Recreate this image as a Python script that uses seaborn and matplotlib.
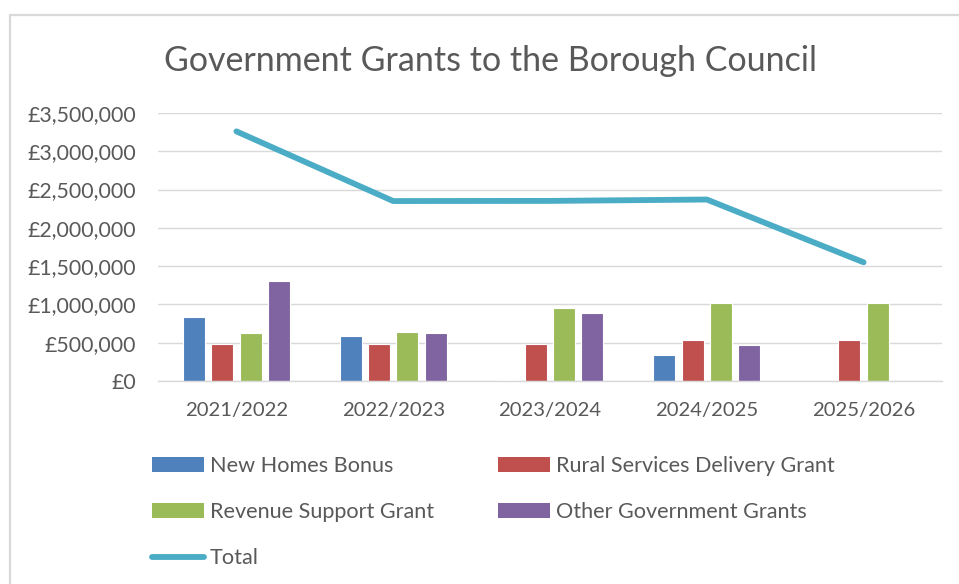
import numpy as np
import pandas as pd
import matplotlib
matplotlib.use("Agg")
import matplotlib.pyplot as plt
from matplotlib.lines import Line2D
from matplotlib.patches import Patch
from matplotlib.ticker import FuncFormatter, MultipleLocator
import seaborn as sns

# ---- data -------------------------------------------------------------
years = ["2021/2022", "2022/2023", "2023/2024", "2024/2025", "2025/2026"]
series = ["New Homes Bonus", "Rural Services Delivery Grant",
          "Revenue Support Grant", "Other Government Grants"]
new_homes_bonus = [835000, 583000, 13000, 335000, np.nan]
rural_services = [487000, 478000, 478000, 539000, 539000]
revenue_support = [622000, 643000, 952000, 1013000, 1013000]
other_grants = [1304000, 626000, 891000, 465000, np.nan]
total = [3260000, 2350000, 2352000, 2370000, 1550000]

colors = ["#4F81BD", "#C0504D", "#9BBB59", "#8064A2"]
line_color = "#4BACC6"
text_color = "#595959"
grid_color = "#D9D9D9"

# long table for seaborn
values = [new_homes_bonus, rural_services, revenue_support, other_grants]
rows = []
for name, vals in zip(series, values):
    for yr, v in zip(years, vals):
        rows.append({"Year": yr, "Grant": name, "Amount": v})
df = pd.DataFrame(rows).dropna()
df["Year"] = pd.Categorical(df["Year"], categories=years, ordered=True)

# ---- style ------------------------------------------------------------
sns.set_theme(style="white")
plt.rcParams["font.family"] = ["Lato", "DejaVu Sans"]
plt.rcParams["text.color"] = text_color

W, H = 959, 584
fig = plt.figure(figsize=(W / 100, H / 100), dpi=100)
left, right, top, bottom = 158, 942, 113, 381
ax = fig.add_axes([left / W, 1 - bottom / H, (right - left) / W, (bottom - top) / H])

sns.barplot(data=df, x="Year", y="Amount", hue="Grant", order=years,
            hue_order=series, palette=colors, width=0.72, gap=0.22,
            errorbar=None, edgecolor="white", linewidth=0.8,
            saturation=1, ax=ax, legend=False)

sns.lineplot(x=np.arange(len(years)), y=total, color=line_color,
             linewidth=4.2, ax=ax, legend=False,
             solid_capstyle="round", solid_joinstyle="round")

ax.set_xlim(-0.5, len(years) - 0.5)
ax.set_ylim(0, 3500000)
ax.yaxis.set_major_locator(MultipleLocator(500000))
ax.yaxis.set_major_formatter(FuncFormatter(lambda v, p: f"£{v:,.0f}"))
ax.set_xticks(range(len(years)))
ax.set_xticklabels(years)
ax.set_xlabel("")
ax.set_ylabel("")

ax.grid(axis="y", color=grid_color, linewidth=1.0)
ax.grid(axis="x", visible=False)
ax.set_axisbelow(True)
for s in ["top", "right", "left"]:
    ax.spines[s].set_visible(False)
ax.spines["bottom"].set_color(grid_color)
ax.spines["bottom"].set_linewidth(1.0)
ax.tick_params(axis="both", length=0, colors=text_color)
ax.tick_params(axis="y", pad=16, labelsize=15.3)
ax.tick_params(axis="x", pad=15, labelsize=14.6)

# title
fig.text(490 / W, 1 - 61 / H, "Government Grants to the Borough Council",
         ha="center", va="center", fontsize=24.5, color=text_color)

# chart frame
fig.add_artist(Line2D([9.5 / W, 9.5 / W], [0, 1 - 15 / H], color=grid_color,
                      linewidth=1.6, transform=fig.transFigure))
fig.add_artist(Line2D([9.5 / W, 1], [1 - 15 / H, 1 - 15 / H], color=grid_color,
                      linewidth=1.6, transform=fig.transFigure))

# legend: two pinned columns
def patch(c):
    return Patch(facecolor=c, edgecolor="none")

total_handle = Line2D([], [], color=line_color, linewidth=4.2,
                      solid_capstyle="round")
leg_kw = dict(frameon=False, fontsize=15.6, handlelength=2.4,
              handleheight=0.65, handletextpad=0.28, labelspacing=1.2,
              borderpad=0, borderaxespad=0, loc="upper left")
leg1 = fig.legend([patch(colors[0]), patch(colors[2]), total_handle],
                  [series[0], series[2], "Total"],
                  bbox_to_anchor=(152 / W, 1 - 456 / H), **leg_kw)
leg2 = fig.legend([patch(colors[1]), patch(colors[3])],
                  [series[1], series[3]],
                  bbox_to_anchor=(498 / W, 1 - 456 / H), **leg_kw)
for lg in (leg1, leg2):
    for t in lg.get_texts():
        t.set_color(text_color)

fig.savefig("out.png", dpi=100)
